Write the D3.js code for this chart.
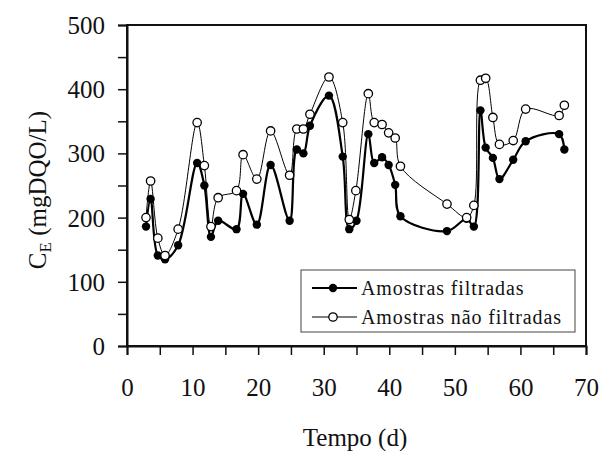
<!DOCTYPE html>
<html><head><meta charset="utf-8">
<script src="https://cdn.jsdelivr.net/npm/d3@7"></script>
<style>body{margin:0;background:#fff}svg{display:block}</style>
</head><body>
<script>
const tFiltered = [2.9,3.6,4.7,5.8,7.8,10.7,11.8,12.8,13.9,16.7,17.7,19.8,21.9,24.8,25.9,26.9,27.9,30.8,32.9,33.9,35.0,36.8,37.7,38.9,39.9,40.9,41.7,48.8,51.8,52.9,53.9,54.7,55.8,56.8,58.9,60.8,65.9,66.7];
const vFiltered = [186,229,141,135,157,285,250,170,195,182,237,189,282,195,306,300,343,390,295,182,195,330,285,294,282,251,202,179,198,186,367,309,293,260,290,319,330,306];
const tUnfiltered = [2.9,3.6,4.7,5.8,7.8,10.7,11.8,12.8,13.9,16.7,17.7,19.8,21.9,24.8,25.9,26.9,27.9,30.8,32.9,33.9,34.9,36.8,37.7,38.9,39.9,40.9,41.7,48.8,51.8,52.9,53.9,54.7,55.8,56.8,58.9,60.8,65.9,66.7];
const vUnfiltered = [200,257,168,141,182,348,281,186,231,242,298,260,335,266,338,338,361,419,348,197,242,393,348,345,332,324,280,221,200,219,414,417,356,314,320,369,359,375];
const xTicks = [0,10,20,30,40,50,60,70];
const yTicks = [0,100,200,300,400,500];
const seriesNames = ["Amostras filtradas","Amostras não filtradas"];

const W=601,H=451;
const svg=d3.select("body").append("svg").attr("width",W).attr("height",H);
const x=d3.scaleLinear().domain([0,70]).range([127,586]);
const y=d3.scaleLinear().domain([0,500]).range([346,25]);
const font="'Liberation Serif','Times New Roman',serif";

svg.append("rect").attr("x",127).attr("y",25).attr("width",459).attr("height",321)
  .attr("fill","none").attr("stroke","#111").attr("stroke-width",2);

const ya=svg.append("g").attr("transform","translate(127,0)")
  .call(d3.axisLeft(y).tickValues(d3.range(0,501,50)).tickSize(9).tickFormat(d=>yTicks.includes(d)?d:""));
const xa=svg.append("g").attr("transform","translate(0,346)")
  .call(d3.axisBottom(x).tickValues(d3.range(0,71,5)).tickSize(9).tickFormat(d=>xTicks.includes(d)?d:""));
[ya,xa].forEach(a=>{a.select(".domain").attr("stroke","#111").attr("stroke-width",2);
  a.selectAll(".tick line").attr("stroke","#111").attr("stroke-width",1.5);
  a.selectAll("text").attr("font-family",font).attr("font-size",25).attr("fill","#111");});
ya.selectAll("text").attr("x",-22).attr("dy","0.34em");
xa.selectAll("text").attr("y",50).attr("dy",0);

svg.append("text").attr("x",355).attr("y",446).attr("text-anchor","middle")
  .attr("font-family",font).attr("font-size",25).attr("fill","#111").text("Tempo (d)");
const yt=svg.append("text").attr("transform","translate(46,190) rotate(-90)").attr("text-anchor","middle")
  .attr("font-family",font).attr("font-size",25).attr("fill","#111");
yt.append("tspan").text("C");
yt.append("tspan").attr("font-size",17).attr("dy",5).text("E");
yt.append("tspan").attr("dy",-5).text(" (mgDQO/L)");

const line=d3.line().x(d=>x(d[0])).y(d=>y(d[1])).curve(d3.curveCatmullRom.alpha(0.5));
const fData=tFiltered.map((t,i)=>[t,vFiltered[i]]);
const uData=tUnfiltered.map((t,i)=>[t,vUnfiltered[i]]);

svg.append("path").datum(fData).attr("d",line).attr("fill","none").attr("stroke","#000").attr("stroke-width",2.2);
svg.append("path").datum(uData).attr("d",line).attr("fill","none").attr("stroke","#000").attr("stroke-width",1);
svg.append("g").selectAll("circle").data(fData).join("circle")
  .attr("cx",d=>x(d[0])).attr("cy",d=>y(d[1])).attr("r",4.2).attr("fill","#000");
svg.append("g").selectAll("circle").data(uData).join("circle")
  .attr("cx",d=>x(d[0])).attr("cy",d=>y(d[1])).attr("r",4.2).attr("fill","#fff").attr("stroke","#000").attr("stroke-width",1.3);

const lg=svg.append("g");
lg.append("rect").attr("x",301).attr("y",270).attr("width",274).attr("height",62)
  .attr("fill","#fff").attr("stroke","#444").attr("stroke-width",1);
seriesNames.forEach((n,i)=>{
  const yy=288+i*29;
  lg.append("line").attr("x1",312).attr("x2",357).attr("y1",yy).attr("y2",yy)
    .attr("stroke","#000").attr("stroke-width",i===0?2:1);
  lg.append("circle").attr("cx",333).attr("cy",yy).attr("r",4.2)
    .attr("fill",i===0?"#000":"#fff").attr("stroke","#000").attr("stroke-width",i===0?0:1.3);
  lg.append("text").attr("x",361).attr("y",yy).attr("dy","0.33em")
    .attr("font-family",font).attr("font-size",20).attr("letter-spacing",0.9).attr("fill","#111").text(n);
});
</script>
</body></html>
